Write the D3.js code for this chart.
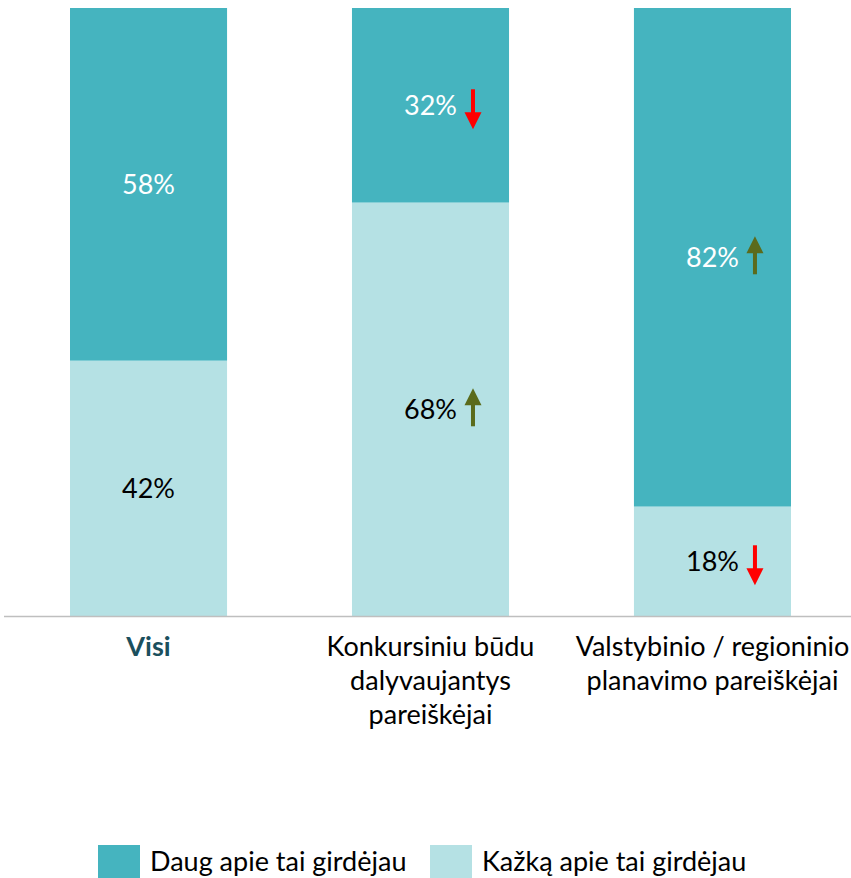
<!DOCTYPE html>
<html><head><meta charset="utf-8">
<script src="https://cdn.jsdelivr.net/npm/d3@7"></script>
<style>body{margin:0;background:#fff;} text{font-family:Lato, "Open Sans", sans-serif;}</style>
</head><body>
<svg id="c" width="851" height="878"></svg>
<script>
const categories = [["Visi"], ["Konkursiniu būdu", "dalyvaujantys", "pareiškėjai"], ["Valstybinio / regioninio", "planavimo pareiškėjai"]];
const seriesNames = ["Daug apie tai girdėjau", "Kažką apie tai girdėjau"];
const daug = [58, 32, 82];
const kazka = [42, 68, 18];
const daugTrend = [null, "down", "up"];
const kazkaTrend = [null, "up", "down"];
const colors = ["#45b4bf", "#b5e1e4"];

const svg = d3.select("#c");
const x = d3.scaleBand().domain([0,1,2]).range([70, 791]).paddingInner(0.443).paddingOuter(0);
const y = d3.scaleLinear().domain([0, 100]).range([616, 8]);

const stackData = categories.map((c, i) => ({i, kazka: kazka[i], daug: daug[i]}));
const stack = d3.stack().keys(["kazka", "daug"])(stackData);
const trends = {kazka: kazkaTrend, daug: daugTrend};
const colorOf = {daug: colors[0], kazka: colors[1]};
const textColor = {daug: "#ffffff", kazka: "#000000"};

const g = svg.append("g");
stack.forEach(layer => {
  const key = layer.key;
  g.selectAll(null).data(layer).enter().append("rect")
    .attr("x", d => x(d.data.i))
    .attr("width", x.bandwidth())
    .attr("y", d => y(d[1]))
    .attr("height", d => y(d[0]) - y(d[1]))
    .attr("fill", colorOf[key]);
});

// axis line
svg.append("line").attr("x1", 4).attr("x2", 851).attr("y1", 616.5).attr("y2", 616.5)
  .attr("stroke", "#bfbfbf").attr("stroke-width", 1.5);

// value labels + arrows
stack.forEach(layer => {
  const key = layer.key;
  layer.forEach(d => {
    const i = d.data.i;
    const cx = x(i) + x.bandwidth() / 2;
    const cy = (y(d[0]) + y(d[1])) / 2;
    const t = svg.append("text").attr("x", cx).attr("y", cy).attr("dy", "0.36em")
      .attr("text-anchor", "middle").attr("font-size", 27).attr("fill", textColor[key])
      .text(d.data[key] + "%");
    const tr = trends[key][i];
    if (tr) {
      const w = t.node().getComputedTextLength();
      const ax = cx + w / 2 + 16;
      const col = tr === "up" ? "#5b6b1c" : "#ff0000";
      const ag = svg.append("g");
      if (tr === "up") {
        const top = cy - 21, bot = cy + 17;
        ag.append("rect").attr("x", ax - 2).attr("y", top + 14).attr("width", 4).attr("height", bot - top - 14).attr("fill", col);
        ag.append("path").attr("d", `M${ax - 8.5},${top + 17}L${ax},${top}L${ax + 8.5},${top + 17}Z`).attr("fill", col);
      } else {
        const top = cy - 16, bot = cy + 24;
        ag.append("rect").attr("x", ax - 2).attr("y", top).attr("width", 4).attr("height", bot - top - 14).attr("fill", col);
        ag.append("path").attr("d", `M${ax - 8.5},${bot - 17}L${ax},${bot}L${ax + 8.5},${bot - 17}Z`).attr("fill", col);
      }
    }
  });
});

// category labels
categories.forEach((lines, i) => {
  const cx = x(i) + x.bandwidth() / 2;
  const t = svg.append("text").attr("text-anchor", "middle").attr("font-size", 27)
    .attr("fill", i === 0 ? "#1b4f5d" : "#000").attr("font-weight", i === 0 ? "bold" : "normal");
  lines.forEach((l, j) => t.append("tspan").attr("x", cx).attr("y", 656 + j * 34).text(l));
});

// legend
const legend = svg.append("g");
const lx = [98, 430];
seriesNames.forEach((n, k) => {
  legend.append("rect").attr("x", lx[k]).attr("y", 845).attr("width", 42).attr("height", 33).attr("fill", colors[k]);
  legend.append("text").attr("x", lx[k] + 52).attr("y", 871).attr("font-size", 27).attr("fill", "#000").text(n);
});
</script>
</body></html>
